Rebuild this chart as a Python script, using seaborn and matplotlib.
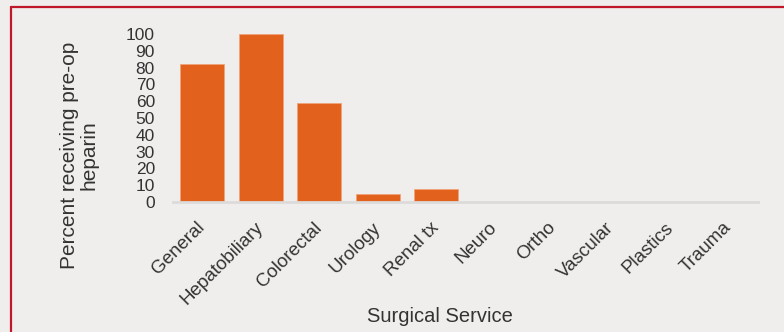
import matplotlib
matplotlib.use("Agg")
import matplotlib.pyplot as plt
import matplotlib.transforms as mtransforms
from matplotlib.lines import Line2D
import seaborn as sns
import pandas as pd

services = ["General", "Hepatobiliary", "Colorectal", "Urology", "Renal tx",
            "Neuro", "Ortho", "Vascular", "Plastics", "Trauma"]
pct_heparin = [82, 100, 59, 5, 8, 0, 0, 0, 0, 0]
y_ticks = [0, 10, 20, 30, 40, 50, 60, 70, 80, 90, 100]

BG = "#EFEEEC"
BAR = "#E2611C"
TEXT = "#333333"

sns.set_theme(style="white")
plt.rcParams["font.family"] = ["Liberation Sans", "DejaVu Sans"]

df = pd.DataFrame({"service": services, "pct": pct_heparin})

W, H = 784, 332
fig = plt.figure(figsize=(W / 100, H / 100), dpi=100, facecolor=BG)
ax = fig.add_axes([173 / W, 1 - 202 / H, 585 / W, 168 / H])
ax.set_facecolor(BG)

sns.barplot(data=df, x="service", y="pct", color=BAR, saturation=1,
            width=0.75, edgecolor="#F0A37A", linewidth=0.6, ax=ax)

ax.set_ylim(0, 100)
ax.set_xlim(-0.5, len(services) - 0.5)
ax.set_yticks(y_ticks)
ax.set_yticklabels([str(v) for v in y_ticks], fontsize=12.5, color=TEXT)
ax.tick_params(axis="y", length=0, pad=13)
ax.tick_params(axis="x", length=0, pad=0)

for s in ["top", "right", "left"]:
    ax.spines[s].set_visible(False)
ax.spines["bottom"].set_color("#DCDBD9")
ax.spines["bottom"].set_linewidth(2)

ax.set_xticks(range(len(services)))
ax.set_xticklabels(services, rotation=45, ha="right", va="center",
                   rotation_mode="anchor", fontsize=13.5, color=TEXT)
offset = mtransforms.ScaledTranslation(0 / 100, -23 / 100, fig.dpi_scale_trans)
for lbl in ax.get_xticklabels():
    lbl.set_transform(lbl.get_transform() + offset)

ax.set_xlabel("Surgical Service", fontsize=14.5, color=TEXT)
ax.xaxis.set_label_coords((440 - 173) / 585, -(317 - 202) / 168)
ax.xaxis.label.set_va("center")

ax.set_ylabel("Percent receiving pre-op\nheparin", fontsize=15, color=TEXT,
              linespacing=1.0)
ax.yaxis.set_label_coords(-(173 - 79) / 585, (202 - 155) / 168)
ax.yaxis.label.set_va("center")

# red frame: left and top edges
fig.add_artist(Line2D([10.5 / W, 10.5 / W], [0, 1 - 6.5 / H],
                      transform=fig.transFigure, color="#C0182A", lw=1.6))
fig.add_artist(Line2D([10.5 / W, 1], [1 - 6.5 / H, 1 - 6.5 / H],
                      transform=fig.transFigure, color="#C0182A", lw=1.6))

fig.savefig("out.png", dpi=100, facecolor=BG)
